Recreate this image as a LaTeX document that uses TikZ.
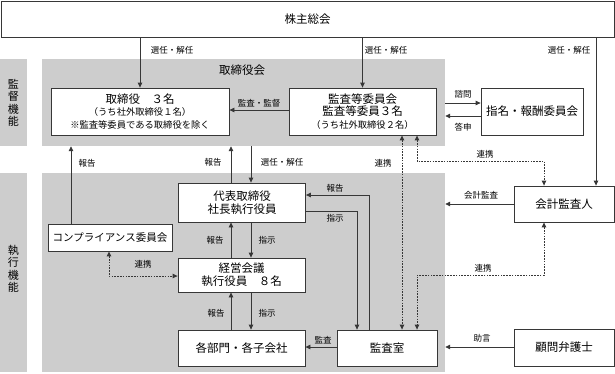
\documentclass[tikz,border=0pt]{standalone}
\usepackage{fontspec}
\newfontfamily\jpf{Noto Sans CJK JP}
\usetikzlibrary{arrows.meta}
\definecolor{bandgray}{RGB}{205,205,205}
\definecolor{linec}{RGB}{55,55,55}
\begin{document}
\begin{tikzpicture}[x=1pt,y=-1pt,
  box/.style={draw=linec, fill=white, line width=0.8pt, inner sep=0pt, align=center,
    font=\jpf\fontsize{11.5}{12.8}\selectfont},
  area/.style={fill=bandgray, inner sep=0pt},
  lab/.style={font=\jpf\fontsize{8.5}{10}\selectfont, inner sep=0pt},
  arr/.style={draw=linec, line width=0.8pt, -{Triangle[length=5pt,width=4.5pt]}},
  darr/.style={draw=linec, line width=0.9pt, dash pattern=on 1.6pt off 1.2pt,
    {Triangle[length=5pt,width=4.5pt]}-{Triangle[length=5pt,width=4.5pt]}},
  sm/.style={font=\jpf\fontsize{9.3}{12.8}\selectfont}
]
\useasboundingbox (0,0) rectangle (615,373);
% background areas
\node[area, minimum width=27pt, minimum height=87pt] (band1) at (13.5,102.5) {};
\node[area, minimum width=27pt, minimum height=199pt] (band2) at (13.5,272.5) {};
\node[area, minimum width=403pt, minimum height=87pt] (board) at (243.5,102.5) {};
\node[area, minimum width=403pt, minimum height=199pt] (exec) at (243.5,272.5) {};
\node[font=\jpf\fontsize{11}{12.5}\selectfont, align=center, inner sep=0pt] (l1) at (13.5,103) {監\\督\\機\\能};
\node[font=\jpf\fontsize{11}{12.5}\selectfont, align=center, inner sep=0pt] (l2) at (13.5,269) {執\\行\\機\\能};
\node[font=\jpf\fontsize{11.5}{13}\selectfont, inner sep=0pt] (boardlab) at (242,70) {取締役会};
% boxes
\node[box, minimum width=613pt, minimum height=36pt] (top) at (307.5,19) {株主総会};
\node[box, minimum width=178pt, minimum height=47pt] (tori) at (140,111.5)
  {取締役　３名\\{\fontsize{9.3}{12.8}\selectfont （うち社外取締役１名）}\\{\fontsize{9.3}{12.8}\selectfont ※監査等委員である取締役を除く}};
\node[box, minimum width=147pt, minimum height=47pt] (kansa) at (362.5,111.5)
  {監査等委員会\\監査等委員３名\\{\fontsize{9.3}{12.8}\selectfont （うち社外取締役２名）}};
\node[box, minimum width=102pt, minimum height=47pt] (shimei) at (532,111.5) {指名・報酬委員会};
\node[box, minimum width=127pt, minimum height=39pt] (daihyo) at (242,202.5) {代表取締役\\社長執行役員};
\node[box, minimum width=124pt, minimum height=27pt, font=\jpf\fontsize{10.5}{12}\selectfont] (comp) at (110,237.5) {コンプライアンス委員会};
\node[box, minimum width=127pt, minimum height=34pt] (keiei) at (241.5,275) {経営会議\\執行役員　８名};
\node[box, minimum width=127pt, minimum height=36pt] (kakubu) at (241.5,348) {各部門・各子会社};
\node[box, minimum width=100pt, minimum height=36pt] (kansashitsu) at (387,348) {監査室};
\node[box, minimum width=100pt, minimum height=36pt] (kaikei) at (564,204) {会計監査人};
\node[box, minimum width=100pt, minimum height=37pt] (komon) at (564,347.5) {顧問弁護士};
% helper coordinates
\coordinate (xk) at (596,0);
\coordinate (y103) at (0,103);
\coordinate (y116) at (0,116);
\coordinate (y110) at (0,110);
\coordinate (x71) at (71,0);
\coordinate (x231) at (231,0);
\coordinate (x251) at (251,0);
\coordinate (y347) at (0,347);
\coordinate (p1) at (369,195);
\coordinate (p2) at (357,211);
\coordinate (p3) at (109,276);
\coordinate (x402) at (402,0);
\coordinate (p4) at (417,161);
\coordinate (p5) at (544,161);
\coordinate (p6) at (544,275);
\coordinate (p7) at (417,275);
% connectors
\draw[arr] (top.south -| tori.north) -- (tori.north);
\draw[arr] (top.south -| kansa.north) -- (kansa.north);
\draw[arr] (top.south -| xk) -- (kaikei.north -| xk);
\draw[arr] (kansa.west |- y110) -- (tori.east |- y110);
\draw[arr] (board.east |- y103) -- (shimei.west |- y103);
\draw[arr] (shimei.west |- y116) -- (board.east |- y116);
\draw[arr] (comp.north -| x71) -- (board.south -| x71);
\draw[arr] (daihyo.north -| x231) -- (board.south -| x231);
\draw[arr] (board.south -| x251) -- (daihyo.north -| x251);
\draw[arr] (keiei.north -| x231) -- (daihyo.south -| x231);
\draw[arr] (daihyo.south -| x251) -- (keiei.north -| x251);
\draw[arr] (kakubu.north -| x231) -- (keiei.south -| x231);
\draw[arr] (keiei.south -| x251) -- (kakubu.north -| x251);
\draw[arr] (kansashitsu.west |- y347) -- (kakubu.east |- y347);
\draw[arr] (kansashitsu.north -| p1) -- (p1) -- (daihyo.east |- p1);
\draw[arr] (daihyo.east |- p2) -- (p2) -- (kansashitsu.north -| p2);
\draw[darr] (comp.south -| p3) -- (p3) -- (keiei.west |- p3);
\draw[darr] (kansa.south -| x402) -- (kansashitsu.north -| x402);
\draw[darr] (kansa.south -| p4) -- (p4) -- (p5) -- (kaikei.north -| p5);
\draw[arr] (kaikei.west) -- (exec.east |- kaikei.west);
\draw[darr] (kaikei.south -| p6) -- (p6) -- (p7) -- (kansashitsu.north -| p7);
\draw[arr] (komon.west |- y347) -- (exec.east |- y347);
% labels
\node[lab] (t1) at (172,50) {選任・解任};
\node[lab] (t2) at (386,50) {選任・解任};
\node[lab] (t3) at (569,50) {選任・解任};
\node[lab] (t4) at (259,103) {監査・監督};
\node[lab] (t5) at (463,94) {諮問};
\node[lab] (t6) at (463,127) {答申};
\node[lab] (t7) at (87,163) {報告};
\node[lab] (t8) at (213,162) {報告};
\node[lab] (t9) at (282,162) {選任・解任};
\node[lab] (t10) at (215,240) {報告};
\node[lab] (t11) at (267,240) {指示};
\node[lab] (t12) at (216,313) {報告};
\node[lab] (t13) at (267,313) {指示};
\node[lab] (t14) at (323,340) {監査};
\node[lab] (t15) at (335,188) {報告};
\node[lab] (t16) at (335,218) {指示};
\node[lab] (t17) at (143,264) {連携};
\node[lab] (t18) at (383,163) {連携};
\node[lab] (t19) at (485,154) {連携};
\node[lab] (t20) at (481,195) {会計監査};
\node[lab] (t21) at (483,268) {連携};
\node[lab] (t22) at (482,338) {助言};
\end{tikzpicture}
\end{document}
